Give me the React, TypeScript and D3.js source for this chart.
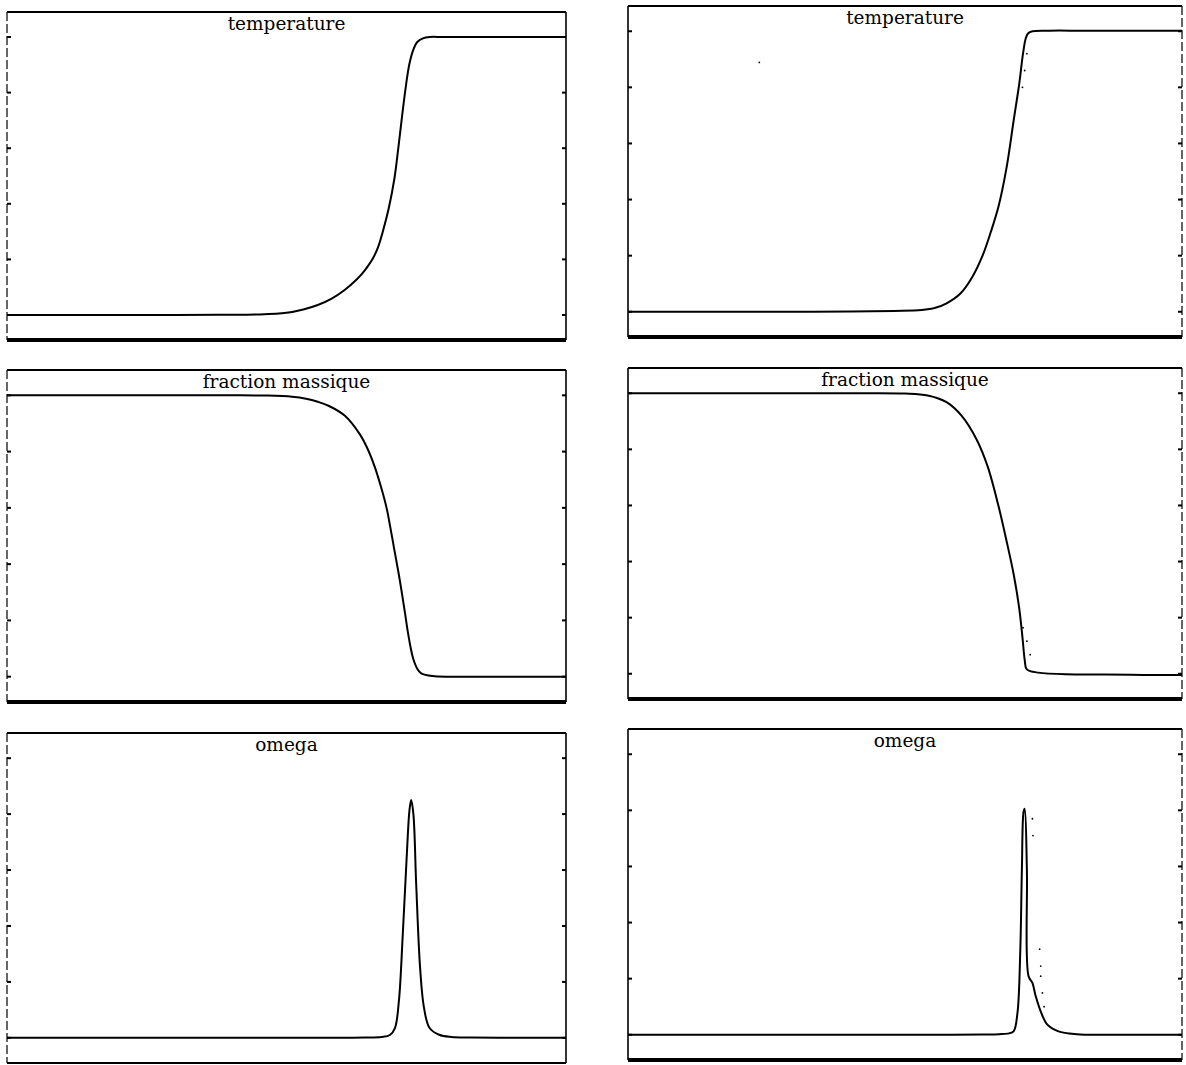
import React from "react";
import * as d3 from "d3";

// ---- data (x as fraction of the domain, y normalised 0..1) ----
const titles = ["temperature", "fraction massique", "omega"];
const yTicks = [0, 0.2, 0.4, 0.6, 0.8, 1];

const tempLeftX = [0, 0.1, 0.2, 0.3, 0.38, 0.45, 0.5, 0.53, 0.556, 0.58, 0.604, 0.625, 0.635, 0.645, 0.655, 0.664, 0.672, 0.683, 0.693, 0.7, 0.707, 0.714, 0.72, 0.727, 0.734, 0.744, 0.756, 0.78, 0.85, 0.92, 1];
const tempLeftY = [0, 0, 0, 0, 0.001, 0.002, 0.008, 0.02, 0.036, 0.058, 0.09, 0.127, 0.148, 0.174, 0.205, 0.245, 0.298, 0.385, 0.49, 0.6, 0.72, 0.83, 0.905, 0.955, 0.982, 0.995, 1.0, 1.0, 1.0, 1.0, 1.0];

const tempRightX = [0, 0.1, 0.2, 0.3, 0.4, 0.48, 0.53, 0.555, 0.575, 0.6, 0.622, 0.64, 0.655, 0.669, 0.683, 0.696, 0.706, 0.713, 0.718, 0.722, 0.73, 0.76, 0.82, 0.9, 1];
const tempRightY = [0, 0, 0, 0, 0.001, 0.003, 0.006, 0.014, 0.03, 0.065, 0.126, 0.2, 0.285, 0.377, 0.51, 0.68, 0.81, 0.92, 0.975, 0.992, 1.0, 1.002, 1.002, 1.002, 1.002];
const tempRightDotsX = [0.237, 0.72, 0.716, 0.712];
const tempRightDotsY = [0.889, 0.92, 0.86, 0.8];

const fracLeftX = [0, 0.1, 0.2, 0.3, 0.4, 0.466, 0.51, 0.535, 0.556, 0.576, 0.604, 0.631, 0.645, 0.658, 0.669, 0.679, 0.686, 0.693, 0.7, 0.706, 0.712, 0.717, 0.722, 0.727, 0.734, 0.741, 0.761, 0.8, 0.87, 0.94, 1];
const fracLeftY = [1, 1, 1, 1, 1, 0.999, 0.995, 0.988, 0.977, 0.962, 0.928, 0.862, 0.81, 0.745, 0.675, 0.6, 0.528, 0.45, 0.374, 0.302, 0.226, 0.16, 0.104, 0.062, 0.028, 0.012, 0.002, 0, 0, 0, 0];

const fracRightX = [0, 0.1, 0.2, 0.3, 0.4, 0.5, 0.541, 0.575, 0.602, 0.629, 0.649, 0.669, 0.683, 0.696, 0.706, 0.712, 0.716, 0.719, 0.725, 0.74, 0.79, 0.86, 0.93, 1];
const fracRightY = [1, 1, 1, 1, 1, 0.999, 0.992, 0.968, 0.92, 0.836, 0.74, 0.596, 0.476, 0.356, 0.236, 0.13, 0.05, 0.018, 0.01, 0.004, -0.002, -0.003, -0.004, -0.004];
const fracRightDotsX = [0.726, 0.72, 0.713];
const fracRightDotsY = [0.068, 0.116, 0.164];

const omegaLeftX = [0, 0.1, 0.2, 0.3, 0.4, 0.5, 0.58, 0.64, 0.67, 0.685, 0.694, 0.701, 0.708, 0.715, 0.72, 0.723, 0.727, 0.732, 0.739, 0.746, 0.756, 0.773, 0.795, 0.83, 0.88, 0.94, 1];
const omegaLeftY = [0, 0, 0, 0, 0, 0, 0, 0.001, 0.003, 0.01, 0.035, 0.13, 0.37, 0.646, 0.814, 0.85, 0.8, 0.55, 0.25, 0.107, 0.035, 0.011, 0.003, 0.001, 0, 0, 0];

const omegaRightX = [0, 0.1, 0.2, 0.3, 0.4, 0.5, 0.58, 0.64, 0.67, 0.685, 0.696, 0.703, 0.708, 0.711, 0.714, 0.716, 0.72, 0.723, 0.73, 0.736, 0.746, 0.757, 0.777, 0.81, 0.86, 0.93, 1];
const omegaRightY = [0, 0, 0, 0, 0, 0, 0, 0.001, 0.002, 0.004, 0.012, 0.078, 0.293, 0.59, 0.795, 0.806, 0.59, 0.209, 0.185, 0.137, 0.078, 0.036, 0.012, 0.002, 0, 0, 0];
const omegaRightDotsX = [0.73, 0.731, 0.743, 0.745, 0.745, 0.748, 0.751];
const omegaRightDotsY = [0.77, 0.71, 0.305, 0.245, 0.209, 0.149, 0.1];

type Panel = {
  title: string;
  x0: number; x1: number; top: number; bottom: number;
  xs: number[]; ys: number[];
  dx?: number[]; dy?: number[];
  thickBottom: boolean; dashedLeft: boolean; dashedRight: boolean;
};

const panels: Panel[] = [
  { title: titles[0], x0: 7, x1: 566, top: 12, bottom: 340, xs: tempLeftX, ys: tempLeftY, thickBottom: true, dashedLeft: true, dashedRight: false },
  { title: titles[0], x0: 628, x1: 1182, top: 6, bottom: 337, xs: tempRightX, ys: tempRightY, dx: tempRightDotsX, dy: tempRightDotsY, thickBottom: true, dashedLeft: false, dashedRight: true },
  { title: titles[1], x0: 7, x1: 566, top: 370, bottom: 702, xs: fracLeftX, ys: fracLeftY, thickBottom: true, dashedLeft: true, dashedRight: false },
  { title: titles[1], x0: 628, x1: 1182, top: 368, bottom: 699, xs: fracRightX, ys: fracRightY, dx: fracRightDotsX, dy: fracRightDotsY, thickBottom: true, dashedLeft: false, dashedRight: true },
  { title: titles[2], x0: 7, x1: 566, top: 733, bottom: 1063, xs: omegaLeftX, ys: omegaLeftY, thickBottom: false, dashedLeft: true, dashedRight: false },
  { title: titles[2], x0: 628, x1: 1182, top: 729, bottom: 1060, xs: omegaRightX, ys: omegaRightY, dx: omegaRightDotsX, dy: omegaRightDotsY, thickBottom: true, dashedLeft: false, dashedRight: true },
];

function PanelView({ p }: { p: Panel }) {
  const x = d3.scaleLinear().domain([0, 1]).range([p.x0, p.x1]);
  const y = d3.scaleLinear().domain([-0.09, 1.09]).range([p.bottom, p.top]);
  const pts: [number, number][] = p.xs.map((v, i) => [v, p.ys[i]]);
  const line = d3
    .line<[number, number]>()
    .x((d) => x(d[0]))
    .y((d) => y(d[1]))
    .curve(d3.curveCatmullRom.alpha(0.5));
  return (
    <g>
      {/* frame */}
      <line x1={p.x0} x2={p.x1} y1={p.top} y2={p.top} stroke="#000" strokeWidth={2} />
      <line x1={p.x0} x2={p.x0} y1={p.top} y2={p.bottom} stroke="#000" strokeWidth={p.dashedLeft ? 1.2 : 1.6} strokeDasharray={p.dashedLeft ? "9,3" : undefined} />
      <line x1={p.x1} x2={p.x1} y1={p.top} y2={p.bottom} stroke="#000" strokeWidth={p.dashedRight ? 1.2 : 1.6} strokeDasharray={p.dashedRight ? "9,3" : undefined} />
      <line x1={p.x0} x2={p.x1} y1={p.bottom} y2={p.bottom} stroke="#000" strokeWidth={p.thickBottom ? 4 : 1.8} />
      {/* ticks */}
      {yTicks.map((t) => (
        <g key={t}>
          <line x1={p.x0} x2={p.x0 + 4} y1={y(t)} y2={y(t)} stroke="#000" strokeWidth={2} />
          <line x1={p.x1} x2={p.x1 - 4} y1={y(t)} y2={y(t)} stroke="#000" strokeWidth={2} />
        </g>
      ))}
      {/* curve */}
      <path d={line(pts) ?? ""} fill="none" stroke="#000" strokeWidth={2} strokeLinejoin="round" />
      {p.dx &&
        p.dx.map((v, i) => (
          <circle key={i} cx={x(v)} cy={y(p.dy![i])} r={0.9} fill="#000" />
        ))}
      <text
        x={(p.x0 + p.x1) / 2}
        y={p.top + 18}
        textAnchor="middle"
        fontFamily="'DejaVu Serif', serif"
        fontSize={18.5}
        fill="#000"
      >
        {p.title}
      </text>
    </g>
  );
}

export default function App() {
  return (
    <svg
      width={1186}
      height={1065}
      style={{ position: "absolute", left: 0, top: 0, background: "#fff" }}
    >
      <rect width={1186} height={1065} fill="#fff" />
      {panels.map((p, i) => (
        <PanelView key={i} p={p} />
      ))}
    </svg>
  );
}
